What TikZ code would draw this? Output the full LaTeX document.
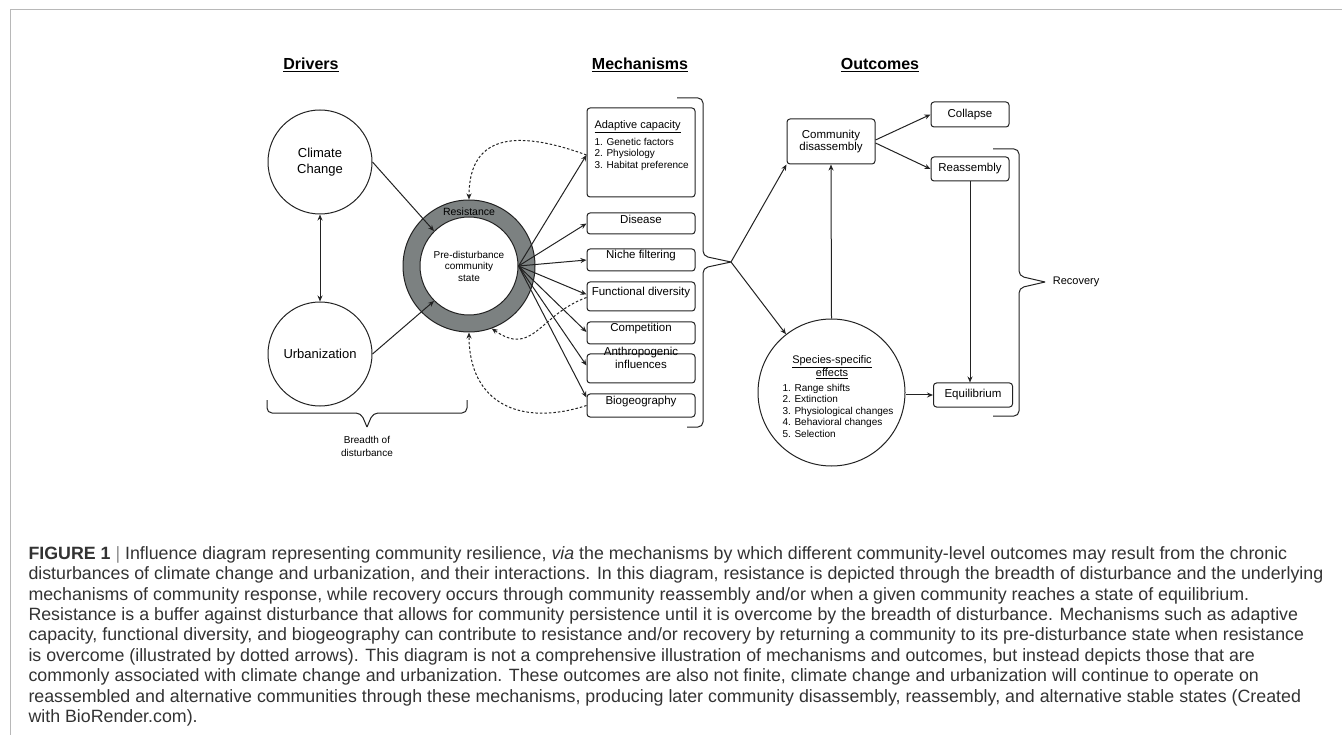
\documentclass[tikz,border=0pt]{standalone}
\usepackage{fontspec}
\setmainfont{Liberation Sans}
\usetikzlibrary{arrows.meta}
\definecolor{ringgray}{HTML}{7C8181}
\definecolor{ink}{HTML}{222222}
\definecolor{captxt}{HTML}{333333}

\begin{document}
\begin{tikzpicture}[x=1pt,y=-1pt,>={Stealth[length=6pt,width=5pt]},line width=1pt,draw=ink,
  hd/.style={font=\fontsize{16}{18}\selectfont\bfseries},
  circ/.style={draw,circle,inner sep=0pt,align=center,font=\fontsize{13}{15.6}\selectfont},
  box/.style={draw,rounded corners=3pt,align=center,inner sep=0.5pt,font=\fontsize{11.5}{12.5}\selectfont},
  lst/.style={align=left,inner sep=0pt,font=\fontsize{10}{11.5}\selectfont},
  back/.style={->,dash pattern=on 2.5pt off 2pt}]
  \useasboundingbox (0,0) rectangle (1342,735);
  \draw[black!28,line width=1pt] (10,735) -- (10,10) -- (1342,10);

  % titres
  \node[hd] (hdrv) at (311,65) {\underline{Drivers}};
  \node[hd] (hmec) at (640,65) {\underline{Mechanisms}};
  \node[hd] (hout) at (880,65) {\underline{Outcomes}};

  % drivers
  \node[circ,minimum size=104pt] (climate) at (320,162) {Climate\\Change};
  \node[circ,minimum size=104pt] (urban) at (320,354) {Urbanization};
  \draw[<->] (climate.south) -- (urban.north);

  % etat initial + resistance
  \node[circ,fill=ringgray,minimum size=132pt] (ring) at (469,266) {};
  \node[circ,fill=white,minimum size=98pt,font=\fontsize{10}{11.5}\selectfont] (pre) at (469,266)
    {Pre-disturbance\\community\\state};
  \node[font=\fontsize{10.5}{12}\selectfont] (resist) at (469,212) {Resistance};
  \draw[->] (climate.east) -- (pre.135);
  \draw[->] (urban.east) -- (pre.225);

  % accolade du bas
  \coordinate (btip) at (367,427);
  \draw[rounded corners=5pt] (267,400) -- (267,413) -- (361,413) -- (btip);
  \draw[rounded corners=5pt] (btip) -- (373,413) -- (467,413) -- (467,400);
  \node[align=center,font=\fontsize{10}{13}\selectfont] (breadth) at (367,446) {Breadth of\\disturbance};

  % mecanismes
  \node[draw,rounded corners=3pt,minimum width=108pt,minimum height=89pt] (adapt) at (641,152.5) {};
  \node[anchor=west,inner sep=0pt,font=\fontsize{11}{13}\selectfont] (adtitle) at (594,127) {\underline{Adaptive capacity}};
  \node[lst,anchor=north west] (adlist) at (594,137.5)
    {1. Genetic factors\\2. Physiology\\3. Habitat preference};
  \foreach \nm/\txt/\yc/\ht in {dise/Disease/223.5/21,nich/Niche filtering/260/22,
      func/Functional diversity/296.5/29,comp/Competition/333/22,
      anth/{Anthropogenic\\influences}/368.5/29,biog/Biogeography/405.5/23}
    \node[box,minimum width=108pt,minimum height=\ht pt] (\nm) at (641,\yc) {\txt};
  \foreach \nm/\dy in {adapt/-2.5,dise/0,nich/0,func/2,comp/1,anth/3,biog/8}
    \draw[->] (pre.east) -- ([yshift=\dy pt]\nm.west);

  % retours (pointilles)
  \draw[back] ([yshift=-2.5pt]adapt.west) to[out=160,in=90,looseness=1.4] (ring.north);
  \draw[back] ([yshift=-1pt]func.west) to[out=200,in=-35,looseness=1.3] (ring.-70);
  \draw[back] (biog.west) to[out=198,in=-90,looseness=1.3] (ring.south);

  % accolade des mecanismes
  \coordinate (mtip) at (731,262);
  \draw[rounded corners=5pt] (677,98) -- (703,98) -- (703,256) -- (mtip);
  \draw[rounded corners=5pt] (mtip) -- (703,268) -- (703,427) -- (687,427);

  % issues
  \node[box,minimum width=88pt,minimum height=45pt] (disas) at (831,141.5) {Community\\disassembly};
  \node[box,minimum width=78pt,minimum height=25pt] (collapse) at (970,114.5) {Collapse};
  \node[box,minimum width=78pt,minimum height=24pt] (reas) at (970,169) {Reassembly};
  \node[box,minimum width=79pt,minimum height=24pt] (equi) at (973,395) {Equilibrium};
  \node[circ,minimum size=147pt] (species) at (831.5,392.5) {};
  \node[align=center,inner sep=0pt,font=\fontsize{11}{13}\selectfont] (sptitle) at (832,367.5)
    {\underline{Species-specific}\\\underline{effects}};
  \node[lst,anchor=north west] (splist) at (782,383.5)
    {1. Range shifts\\2. Extinction\\3. Physiological changes\\4. Behavioral changes\\5. Selection};

  \draw[->] (mtip) -- (disas.south west);
  \draw[->] (mtip) -- (species.128);
  \draw[->] (species.north) -- (disas.south);
  \draw[->] ([yshift=1.5pt]disas.east) -- (collapse.west);
  \draw[->] ([yshift=-1.5pt]disas.east) -- (reas.west);
  \draw[->] (reas.south) -- (reas.south |- equi.north);
  \draw[->] (species.east |- equi.west) -- (equi.west);

  % accolade recovery
  \coordinate (rtip) at (1045,282);
  \draw[rounded corners=5pt] (993,149) -- (1019,149) -- (1019,276) -- (rtip);
  \draw[rounded corners=5pt] (rtip) -- (1019,288) -- (1019,416) -- (993,416);
  \node[anchor=west,font=\fontsize{11}{13}\selectfont] (recov) at (1049,282) {Recovery};

  % legende (base = derniere ligne)
  \node[anchor=base west,align=left,inner sep=0pt,text=captxt,
        font=\fontsize{17.8}{20.4}\selectfont] (caption) at (28,722.5)
    {\textbf{FIGURE 1} {\color{black!45}|} Influence diagram representing community resilience, \textit{via} the mechanisms by which different community-level outcomes may result from the chronic\\
     disturbances of climate change and urbanization, and their interactions. In this diagram, resistance is depicted through the breadth of disturbance and the underlying\\
     mechanisms of community response, while recovery occurs through community reassembly and/or when a given community reaches a state of equilibrium.\\
     Resistance is a buffer against disturbance that allows for community persistence until it is overcome by the breadth of disturbance. Mechanisms such as adaptive\\
     capacity, functional diversity, and biogeography can contribute to resistance and/or recovery by returning a community to its pre-disturbance state when resistance\\
     is overcome (illustrated by dotted arrows). This diagram is not a comprehensive illustration of mechanisms and outcomes, but instead depicts those that are\\
     commonly associated with climate change and urbanization. These outcomes are also not finite, climate change and urbanization will continue to operate on\\
     reassembled and alternative communities through these mechanisms, producing later community disassembly, reassembly, and alternative stable states (Created\\
     with BioRender.com).};
\end{tikzpicture}
\end{document}
